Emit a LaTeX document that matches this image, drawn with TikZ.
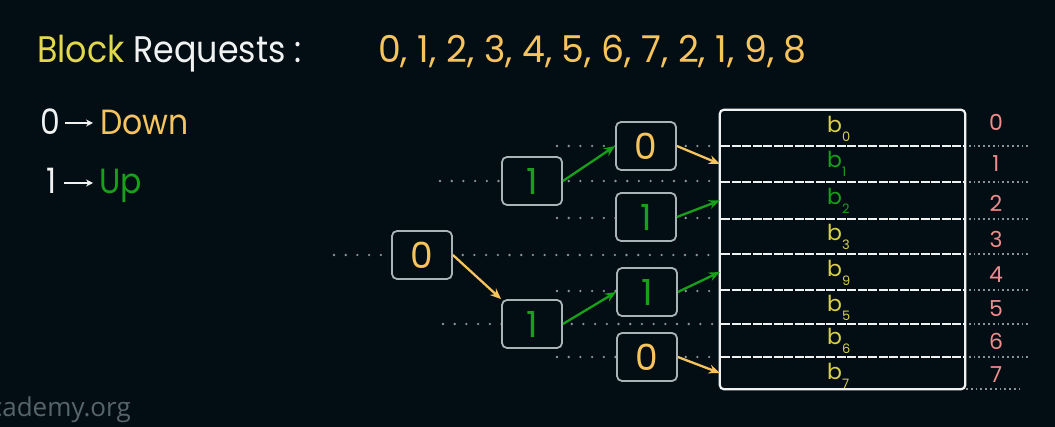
\documentclass[tikz,border=0pt]{standalone}
\usepackage{fontspec}
\setmainfont{Poppins}
\newfontfamily\wmfont{Open Sans}
\usetikzlibrary{arrows.meta}
\definecolor{bg}{HTML}{020E14}
\definecolor{yel}{HTML}{E2D84C}
\definecolor{org}{HTML}{F6C35C}
\definecolor{wht}{HTML}{F0F2F2}
\definecolor{grn}{HTML}{18A01A}
\definecolor{boxg}{HTML}{A9B4B8}
\definecolor{dotg}{HTML}{8A9498}
\definecolor{pnk}{HTML}{F08C8C}
\definecolor{byel}{HTML}{D8D04A}
\definecolor{wm}{HTML}{56656B}
\tikzset{
  bigtxt/.style={inner sep=0pt, anchor=base west, font=\fontsize{37}{37}\selectfont},
  legtxt/.style={inner sep=0pt, anchor=base west, font=\fontsize{35}{35}\selectfont},
  tnode/.style={draw=boxg, line width=1.8pt, rounded corners=5pt, minimum width=60pt, minimum height=48pt, inner sep=0pt, font=\fontsize{36}{36}\selectfont},
  dots/.style={draw=dotg, line width=2.6pt, line cap=round, dash pattern=on 0pt off 11.7pt},
  fdots/.style={draw=dotg, line width=1.8pt, dash pattern=on 1.8pt off 3pt},
  sep/.style={draw=wht, line width=2.2pt, dash pattern=on 9pt off 1.5pt},
  arr/.style={line width=2.3pt, -{Stealth[length=11pt,width=9pt]}},
  rowbox/.style={minimum width=245pt, inner sep=0pt},
  blab/.style={inner sep=0pt, anchor=base west, font=\fontsize{22}{22}\selectfont},
  idx/.style={inner sep=0pt, anchor=base, text=pnk, font=\fontsize{22}{22}\selectfont},
}
\newcommand{\bsub}[1]{b\raisebox{-9pt}{\fontsize{13}{13}\selectfont #1}}
\begin{document}
\begin{tikzpicture}[x=1pt,y=-1pt]
\fill[bg] (0,0) rectangle (1055,427);
\useasboundingbox (0,0) rectangle (1055,427);
% title
\node[bigtxt] (title) at (37,63) {\scalebox{0.9}[1]{\textcolor{yel}{Block} \textcolor{wht}{Requests :}}};
\node[bigtxt, text=org] (seq) at (378,63) {\scalebox{0.98}[1]{0, 1, 2, 3, 4, 5, 6, 7, 2, 1, 9, 8}};
% legend
\node[legtxt, text=wht] (lz) at (40,135) {\scalebox{0.9}[1]{0}};
\node[legtxt, text=org] (ld) at (100,135) {\scalebox{0.9}[1]{Down}};
\node[legtxt, text=wht] (lo) at (46,194) {\scalebox{0.9}[1]{1}};
\node[legtxt, text=grn] (lu) at (99,194) {\scalebox{0.9}[1]{Up}};
\coordinate (a0s) at (65,123); \coordinate (a0e) at (93,123);
\coordinate (a1s) at (64,183); \coordinate (a1e) at (93,183);
\draw[wht, line width=1.6pt, -{Stealth[length=7pt,width=7pt]}] (a0s) -- (a0e);
\draw[wht, line width=1.6pt, -{Stealth[length=7pt,width=7pt]}] (a1s) -- (a1e);
% dotted guide lines
\coordinate (d0l) at (334,255); \coordinate (d0r) at (720,255);
\coordinate (d1l) at (440,181); \coordinate (d1r) at (720,181);
\coordinate (d2l) at (443,324); \coordinate (d2r) at (720,324);
\coordinate (d3l) at (557,146); \coordinate (d3r) at (720,146);
\coordinate (d4l) at (557,218); \coordinate (d4r) at (720,218);
\coordinate (d5l) at (557,291); \coordinate (d5r) at (720,291);
\coordinate (d6l) at (557,357); \coordinate (d6r) at (720,357);
\foreach \i in {0,...,6} { \draw[dots] (d\i l) -- (d\i r); }
% tree nodes
\node[tnode, fill=bg, text=org] (r) at (422,255) {0};
\node[tnode, fill=bg, text=grn] (l2a) at (532,181) {1};
\node[tnode, fill=bg, text=grn] (l2b) at (532,324) {1};
\node[tnode, fill=bg, text=org] (l3a) at (646,146) {0};
\node[tnode, fill=bg, text=grn] (l3b) at (646,217) {1};
\node[tnode, fill=bg, text=grn] (l3c) at (647,292) {1};
\node[tnode, fill=bg, text=org] (l3d) at (647,357) {0};
% memory rows
\foreach \n/\t/\b in {0/110/146,1/146/182,2/182/219,3/219/254,4/254/290,5/290/324,6/324/357,7/357/389} {
  \node[rowbox, minimum height={\b-\t}] (m\n) at (842.5,{(\t+\b)/2}) {};
}
% separators and right dotted lines
\foreach \y in {146,182,219,254,290,324,357} {
  \coordinate (sl) at (721,\y); \coordinate (sr) at (964,\y); \coordinate (er) at (1028,\y);
  \draw[sep] (sl) -- (sr);
  \draw[fdots] (sr) -- (er);
}
\coordinate (bb1) at (966,389); \coordinate (bb2) at (1020,389);
\draw[fdots] (bb1) -- (bb2);
\draw[wht, line width=2.2pt, rounded corners=4pt] (m0.north west) rectangle (m7.south east);
% b labels
\node[blab, text=byel] (b0) at (827,133) {\bsub{0}};
\node[blab, text=grn] (b1) at (827,168) {\bsub{1}};
\node[blab, text=grn] (b2) at (827,205) {\bsub{2}};
\node[blab, text=byel] (b3) at (827,241) {\bsub{3}};
\node[blab, text=byel] (b9) at (827,277) {\bsub{9}};
\node[blab, text=byel] (b5) at (827,312) {\bsub{5}};
\node[blab, text=byel] (b6) at (827,345) {\bsub{6}};
\node[blab, text=byel] (b7) at (827,380) {\bsub{7}};
% index labels
\foreach \i/\y in {0/131,1/172,2/212,3/248,4/283,5/317,6/350,7/383} {
  \node[idx] (i\i) at (996,\y) {\i};
}
% arrows
\draw[arr, org] (r.east) -- (l2b.north west);
\draw[arr, grn] (l2a.east) -- (l3a.west);
\draw[arr, grn] (l2b.east) -- (l3c.west);
\draw[arr, org] (l3a.east) -- (m1.west);
\draw[arr, grn] (l3b.east) -- (m2.west);
\draw[arr, grn] (l3c.east) -- (m4.west);
\draw[arr, org] (l3d.east) -- (m7.west);
% watermark
\begin{scope}
\clip (0,0) rectangle (1055,427);
\node[inner sep=0pt, anchor=base east, text=wm, font=\wmfont\fontsize{26}{26}\selectfont] (wmk) at (131,417) {cademy.org};
\end{scope}
\end{tikzpicture}
\end{document}
